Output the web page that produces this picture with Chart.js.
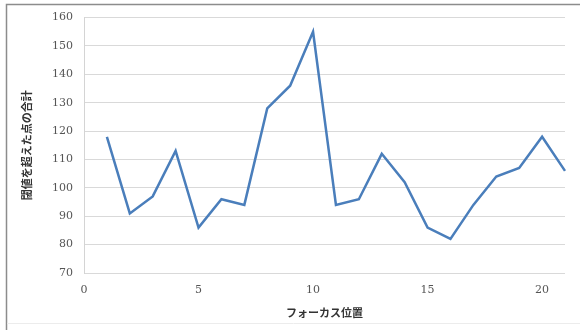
<!DOCTYPE html>
<html>
<head>
<meta charset="utf-8">
<script src="https://cdn.jsdelivr.net/npm/chart.js@4/dist/chart.umd.min.js"></script>
<style>
  html, body { margin: 0; padding: 0; background: #ffffff; }
  #wrap { width: 580px; height: 330px; position: relative; }
</style>
</head>
<body>
<div id="wrap"><canvas id="c" width="580" height="330"></canvas></div>
<script>
// フォーカス位置ごとの閾値超過点の合計
const focusPositions = [1, 2, 3, 4, 5, 6, 7, 8, 9, 10, 11, 12, 13, 14, 15, 16, 17, 18, 19, 20, 21];
const pointTotals = [118, 91, 97, 113, 86, 96, 94, 128, 136, 155, 94, 96, 112, 102, 86, 82, 94, 104, 107, 118, 106];
const xTickValues = [0, 5, 10, 15, 20];
const yTickValues = [70, 80, 90, 100, 110, 120, 130, 140, 150, 160];
const xTitle = 'フォーカス位置';
const yTitle = '閾値を超えた点の合計';

const tickFont = { family: '"DejaVu Serif", "Liberation Serif", serif', size: 11 };
const titleFont = { family: '"Noto Sans CJK JP", sans-serif', size: 11, weight: 'bold' };

// outer frame: dark top and left edges, faint bottom edge
const framePlugin = {
  id: 'frame',
  afterDraw(chart) {
    const ctx = chart.ctx;
    ctx.save();
    ctx.strokeStyle = '#8c8c8c';
    ctx.lineWidth = 1.5;
    ctx.beginPath();
    ctx.moveTo(6.5, 330);
    ctx.lineTo(6.5, 4.5);
    ctx.lineTo(580, 4.5);
    ctx.stroke();
    ctx.strokeStyle = '#ececec';
    ctx.lineWidth = 1;
    ctx.beginPath();
    ctx.moveTo(7, 323.5);
    ctx.lineTo(580, 323.5);
    ctx.stroke();
    ctx.restore();
  }
};

new Chart(document.getElementById('c'), {
  type: 'line',
  data: {
    datasets: [{
      data: focusPositions.map((x, i) => ({ x: x, y: pointTotals[i] })),
      borderColor: '#4a7ebb',
      borderWidth: 2.5,
      pointRadius: 0,
      tension: 0,
      clip: false
    }]
  },
  options: {
    responsive: false,
    animation: false,
    devicePixelRatio: 1,
    layout: { padding: { left: 0, right: 15, top: 17, bottom: 0 } },
    plugins: { legend: { display: false }, tooltip: { enabled: false } },
    scales: {
      x: {
        type: 'linear',
        min: 0,
        max: 21,
        afterBuildTicks(scale) { scale.ticks = xTickValues.map(v => ({ value: v })); },
        afterFit(scale) { scale.height = 57; },
        grid: { display: false, drawTicks: false },
        border: { display: false },
        ticks: { font: tickFont, color: '#555555', padding: 11, maxRotation: 0 },
        title: { display: true, text: xTitle, font: titleFont, color: '#333333', padding: { top: 0, bottom: 11 } }
      },
      y: {
        min: 70,
        max: 160,
        afterBuildTicks(scale) { scale.ticks = yTickValues.map(v => ({ value: v })); },
        afterFit(scale) { scale.width = 84; },
        grid: { color: '#d9d9d9', lineWidth: 1, drawTicks: false },
        border: { display: true, color: '#d4d4d4', width: 1 },
        ticks: { font: tickFont, color: '#555555', padding: 11 },
        title: { display: true, text: yTitle, font: titleFont, color: '#333333', padding: { top: 20, bottom: 0 } }
      }
    }
  },
  plugins: [framePlugin]
});
</script>
</body>
</html>
